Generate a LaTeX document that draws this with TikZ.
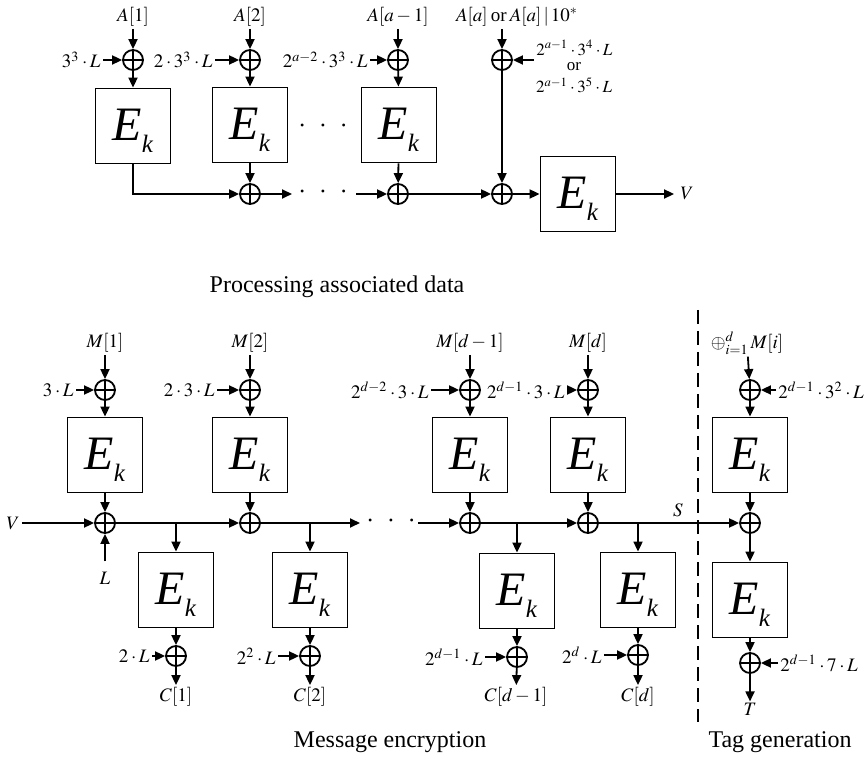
\documentclass[tikz,border=0pt]{standalone}
\usepackage{mathptmx}
\usepackage{fontspec}
\setmainfont{Liberation Serif}
\usetikzlibrary{arrows.meta}

% block cipher label E_k (subscript smashed so the E sits in the box centre)
\newcommand{\blockEk}{{\fontsize{24}{24}\selectfont\textit{E}}\smash{\raisebox{-6pt}{\fontsize{12.5}{12.5}\selectfont\textit{k}}}\rule[-1pt]{0pt}{1pt}}
\newcommand{\wiredots}{$\cdot$\hspace{6.5pt}$\cdot$\hspace{6.5pt}$\cdot$}

\tikzset{
  wire/.style={line width=0.9pt},
  arr/.style={wire, -{Triangle[length=5pt,width=4.5pt]}},
  ek/.style={draw, line width=0.9pt, minimum size=37.5pt, inner sep=0pt},
  xor/.style={circle, draw, line width=0.9pt, minimum size=10pt, inner sep=0pt,
    path picture={\draw[line width=0.9pt]
      (path picture bounding box.north) -- (path picture bounding box.south)
      (path picture bounding box.west) -- (path picture bounding box.east);}},
  lbl/.style={font=\fontsize{9.5}{10}\selectfont, inner sep=1pt},
  small/.style={font=\fontsize{8.5}{9}\selectfont, inner sep=0pt},
  dotsfont/.style={font=\fontsize{14}{14}\selectfont, inner sep=0pt},
  caption/.style={font=\fontsize{12}{14}\selectfont},
}

\begin{document}
\begin{tikzpicture}[x=0.5pt,y=-0.5pt]
\useasboundingbox (0,0) rectangle (865,763);

% ---------------- associated data ----------------
\node[lbl] (a1) at (133,17) {$A[1]$};
\node[lbl] (a2) at (250,17) {$A[2]$};
\node[lbl] (a3) at (398,17) {$A[a-1]$};
\node[lbl] (a4) at (517,17) {$A[a]$\,or\,$A[a]\,|\,10^{*}$};

\node[xor] (ax1) at (133,60) {};
\node[xor] (ax2) at (250,60) {};
\node[xor] (ax3) at (398,60) {};
\node[xor] (ax4) at (502,60) {};

\node[lbl,anchor=east] (ak1) at (103,60) {$3^{3}\cdot L$};
\node[lbl,anchor=east] (ak2) at (215,60) {$2\cdot 3^{3}\cdot L$};
\node[lbl,anchor=east] (ak3) at (370,60) {$2^{a-2}\cdot 3^{3}\cdot L$};
\node[small,anchor=west] (ak4a) at (536,48) {$2^{a-1}\cdot 3^{4}\cdot L$};
\node[small] (ak4b) at (574,67) {or};
\node[small] (ak4c) at (574,85) {$2^{a-1}\cdot 3^{5}\cdot L$};

\node[ek] (e1) at (133,126) {\blockEk};
\node[ek] (e2) at (250,125) {\blockEk};
\node[ek] (e3) at (399,125) {\blockEk};
\node[ek] (e4) at (578,194) {\blockEk};

\node[xor] (ay1) at (250,194) {};
\node[xor] (ay2) at (398,194) {};
\node[xor] (ay3) at (502,194) {};

\node[dotsfont] (dt1) at (323,126) {\wiredots};
\node[dotsfont] (dt2) at (323,192) {\wiredots};
\coordinate (g1) at (292,194);
\coordinate (g2) at (356,194);
\coordinate (g0) at (534,60);

\node[lbl,inner sep=3pt] (vout) at (687,194) {$V$};

\foreach \i in {1,2,3}{
  \draw[arr] (a\i) -- (ax\i);
  \draw[arr] (ak\i.east |- ax\i) -- (ax\i);
  \draw[arr] (ax\i) -- (e\i);
}
\draw[arr] (a4.south -| ax4) -- (ax4);
\draw[arr] (g0) -- (ax4);
\draw[arr] (ax4) -- (ay3);
\draw[arr] (e1) |- (ay1);
\draw[arr] (e2) -- (ay1);
\draw[arr] (e3) -- (ay2);
\draw[arr] (ay1) -- (g1);
\draw[arr] (g2) -- (ay2);
\draw[arr] (ay2) -- (ay3);
\draw[arr] (ay3) -- (e4);
\draw[arr] (e4) -- (vout);

\node[caption] (t1) at (337,287) {Processing associated data};

% ---------------- message encryption ----------------
\node[lbl] (m1) at (105,343) {$M[1]$};
\node[lbl] (m2) at (250,343) {$M[2]$};
\node[lbl] (m3) at (470,343) {$M[d-1]$};
\node[lbl] (m4) at (588,343) {$M[d]$};

\node[xor] (mx1) at (105,390) {};
\node[xor] (mx2) at (250,390) {};
\node[xor] (mx3) at (470,390) {};
\node[xor] (mx4) at (588,390) {};

\node[lbl,anchor=east] (mk1) at (76,390) {$3\cdot L$};
\node[lbl,anchor=east] (mk2) at (217,390) {$2\cdot 3\cdot L$};
\node[lbl,anchor=east] (mk3) at (431,390) {$2^{d-2}\cdot 3\cdot L$};
\node[lbl,anchor=east] (mk4) at (567,390) {$2^{d-1}\cdot 3\cdot L$};

\node[ek] (f1) at (105,455) {\blockEk};
\node[ek] (f2) at (250,455) {\blockEk};
\node[ek] (f3) at (470,455) {\blockEk};
\node[ek] (f4) at (588,455) {\blockEk};

\node[xor] (n1) at (105,523) {};
\node[xor] (n2) at (250,523) {};
\node[xor] (n3) at (470,523) {};
\node[xor] (n4) at (588,523) {};

\node[lbl] (vin) at (13,523) {$V$};
\node[lbl,inner sep=5pt] (lin) at (105,578) {$L$};

\coordinate (b1) at (176,523);
\coordinate (b2) at (310,523);
\coordinate (b3) at (517,523);
\coordinate (b4) at (638,523);
\coordinate (g3) at (360,523);
\coordinate (g4) at (418,523);
\node[dotsfont] (dt3) at (391,521) {\wiredots};

\node[ek] (h1) at (176,590) {\blockEk};
\node[ek] (h2) at (310,590) {\blockEk};
\node[ek] (h3) at (517,591) {\blockEk};
\node[ek] (h4) at (638,590) {\blockEk};

\node[xor] (o1) at (176,656) {};
\node[xor] (o2) at (310,656) {};
\node[xor] (o3) at (517,657) {};
\node[xor] (o4) at (638,655) {};

\node[lbl,anchor=east] (ok1) at (152,656) {$2\cdot L$};
\node[lbl,anchor=east] (ok2) at (278,656) {$2^{2}\cdot L$};
\node[lbl,anchor=east] (ok3) at (485,657) {$2^{d-1}\cdot L$};
\node[lbl,anchor=east] (ok4) at (604,655) {$2^{d}\cdot L$};

\node[lbl] (c1) at (176,697) {$C[1]$};
\node[lbl] (c2) at (310,697) {$C[2]$};
\node[lbl] (c3) at (516,697) {$C[d-1]$};
\node[lbl] (c4) at (638,697) {$C[d]$};

\node[lbl] (s) at (678,510) {$S$};

\foreach \i in {1,2,3,4}{
  \draw[arr] (m\i) -- (mx\i);
  \draw[arr] (mk\i.east |- mx\i) -- (mx\i);
  \draw[arr] (mx\i) -- (f\i);
  \draw[arr] (f\i) -- (n\i);
  \draw[arr] (b\i) -- (h\i);
  \draw[arr] (h\i) -- (o\i);
  \draw[arr] (ok\i.east |- o\i) -- (o\i);
  \draw[arr] (o\i) -- (c\i);
}
\draw[arr] (vin) -- (n1);
\draw[arr] (lin) -- (n1);
\draw[arr] (n1) -- (n2);
\draw[arr] (n2) -- (g3);
\draw[arr] (g4) -- (n3);
\draw[arr] (n3) -- (n4);

% ---------------- tag generation ----------------
\node[lbl] (ms) at (747,343) {$\oplus_{i=1}^{d}\,M[i]$};
\node[xor] (tx1) at (750,390) {};
\node[lbl,anchor=west] (tk1) at (776,390) {$2^{d-1}\cdot 3^{2}\cdot L$};
\node[ek] (tf1) at (750,455) {\blockEk};
\node[xor] (tn) at (750,523) {};
\node[ek] (tf2) at (750,600) {\blockEk};
\node[xor] (tx2) at (750,663) {};
\node[lbl,anchor=west] (tk2) at (778,663) {$2^{d-1}\cdot 7\cdot L$};
\node[lbl,inner sep=0.5pt] (tout) at (750,709) {$T$};

\draw[arr] (ms) -- (tx1);
\draw[arr] (tk1.west |- tx1) -- (tx1);
\draw[arr] (tx1) -- (tf1);
\draw[arr] (tf1) -- (tn);
\draw[arr] (n4) -- (tn);
\draw[arr] (tn) -- (tf2);
\draw[arr] (tf2) -- (tx2);
\draw[arr] (tk2.west |- tx2) -- (tx2);
\draw[arr] (tx2) -- (tout);

% separator between encryption and tag generation
\coordinate (sepTop) at (698,310);
\coordinate (sepBot) at (698,722);
\draw[wire, dash pattern=on 7pt off 3.5pt] (sepTop) -- (sepBot);

\node[caption] (t2) at (390,742) {Message encryption};
\node[caption] (t3) at (780,742) {Tag generation};
\end{tikzpicture}
\end{document}
